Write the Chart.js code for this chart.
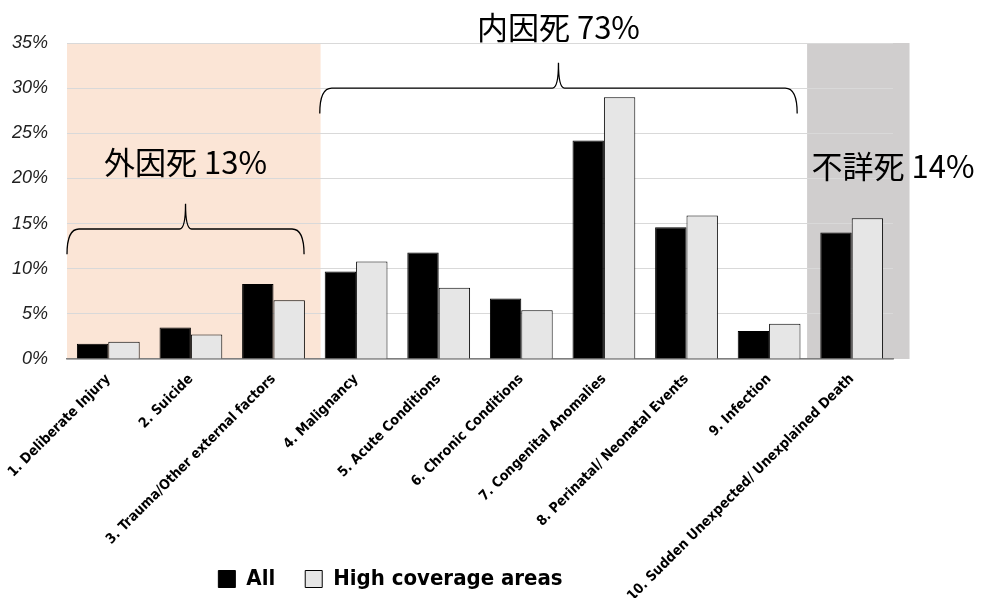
<!DOCTYPE html>
<html>
<head>
<meta charset="utf-8">
<script src="https://cdn.jsdelivr.net/npm/chart.js@4.4.1/dist/chart.umd.min.js"></script>
<style>
  html, body { margin: 0; padding: 0; background: #fff; }
  #wrap { width: 991px; height: 598px; }
</style>
</head>
<body>
<div id="wrap"><canvas id="chart"></canvas></div>
<script>
// ===== Data =====
const categories = [
    '1. Deliberate Injury',
    '2. Suicide',
    '3. Trauma/Other external factors',
    '4. Malignancy',
    '5. Acute Conditions',
    '6. Chronic Conditions',
    '7. Congenital Anomalies',
    '8. Perinatal/ Neonatal Events',
    '9. Infection',
    '10. Sudden Unexpected/ Unexplained Death'
];
const allValues = [1.7, 3.5, 8.3, 9.7, 11.8, 6.7, 24.2, 14.6, 3.1, 14.0];
const highCoverageValues = [1.9, 2.7, 6.5, 10.8, 7.9, 5.4, 29.0, 15.9, 3.9, 15.6];
const yTicks = [0, 5, 10, 15, 20, 25, 30, 35];

// group annotations: first/last category index, label, brace height (%)
const groups = [
    { from: 0, to: 2, label: '外因死 13%', brace: 14.4, textY: 21.8, band: '#fbe5d6' },
    { from: 3, to: 8, label: '内因死 73%', brace: 30, textY: 36.8, band: null },
    { from: 9, to: 9, label: '不詳死 14%', brace: null, textY: 21.4, band: '#d0cece' }
];

const narrow = "'Liberation Sans Narrow', 'Arial Narrow', 'DejaVu Sans Condensed', sans-serif";
const cjk = "'Noto Sans CJK JP', 'Noto Sans CJK SC', sans-serif";

// draws background bands before the grid
const bandPlugin = {
    id: 'bands',
    beforeDraw(chart) {
        const { ctx, chartArea, scales: { x } } = chart;
        const w = x.getPixelForValue(1) - x.getPixelForValue(0);
        ctx.save();
        groups.forEach((g, i) => {
            if (!g.band) return;
            let left = x.getPixelForValue(g.from) - w / 2;
            let right = x.getPixelForValue(g.to) + w / 2;
            if (i === 0) right += w * 0.07;
            if (i === groups.length - 1) { left -= w * 0.04; right += w * 0.2; }
            ctx.fillStyle = g.band;
            ctx.fillRect(left, chartArea.top, right - left, chartArea.bottom - chartArea.top);
        });
        ctx.restore();
    }
};

function drawBrace(ctx, x0, x1, xm, yH, yEnd, yTip) {
    const r = 6;
    ctx.beginPath();
    ctx.moveTo(x0, yEnd);
    ctx.quadraticCurveTo(x0, yH, x0 + r * 2, yH);
    ctx.lineTo(xm - r, yH);
    ctx.quadraticCurveTo(xm, yH, xm, yTip);
    ctx.quadraticCurveTo(xm, yH, xm + r, yH);
    ctx.lineTo(x1 - r * 2, yH);
    ctx.quadraticCurveTo(x1, yH, x1, yEnd);
    ctx.stroke();
}

// braces and group labels
const groupPlugin = {
    id: 'groups',
    afterDatasetsDraw(chart) {
        const { ctx, chartArea, scales: { x, y } } = chart;
        const w = x.getPixelForValue(1) - x.getPixelForValue(0);
        ctx.save();
        ctx.strokeStyle = '#000';
        ctx.lineWidth = 1.3;
        ctx.fillStyle = '#000';
        ctx.font = '31px ' + cjk;
        ctx.textAlign = 'center';
        ctx.textBaseline = 'middle';
        groups.forEach((g, i) => {
            let cx;
            if (g.brace !== null) {
                const x0 = x.getPixelForValue(g.from) - w / 2 + (i === 0 ? 0 : w * 0.06);
                const x1 = x.getPixelForValue(g.to) + w / 2 - (i === 0 ? w * 0.13 : w * 0.16);
                cx = (x0 + x1) / 2;
                drawBrace(ctx, x0, x1, cx, y.getPixelForValue(g.brace),
                    y.getPixelForValue(g.brace - 2.8), y.getPixelForValue(g.brace + 2.8));
            } else {
                cx = chartArea.right;
            }
            ctx.fillText(g.label, cx, y.getPixelForValue(g.textY));
        });
        ctx.restore();
    }
};

// move the legend to where it sits in the source, and let the
// rotated tick labels run to the bottom of the canvas
const layoutFix = {
    id: 'layoutFix',
    afterLayout(chart) {
        const l = chart.legend;
        if (l) {
            l.left -= 56;
            l.right -= 56;
            l.top += 2;
            l.bottom += 2;
        }
        chart.scales.x.bottom = chart.height;
    }
};

new Chart(document.getElementById('chart'), {
    type: 'bar',
    data: {
        labels: categories,
        datasets: [
            {
                label: 'All',
                data: allValues,
                backgroundColor: '#000000',
                borderColor: '#000000',
                borderWidth: 1
            },
            {
                label: 'High coverage areas',
                data: highCoverageValues,
                backgroundColor: '#e6e6e6',
                borderColor: '#000000',
                borderWidth: 1
            }
        ]
    },
    options: {
        responsive: true,
        maintainAspectRatio: false,
        animation: false,
        categoryPercentage: 0.76,
        barPercentage: 1,
        layout: { padding: { top: 43, right: 98, left: 0, bottom: 0 } },
        plugins: {
            legend: {
                position: 'bottom',
                labels: {
                    color: '#000',
                    boxWidth: 17,
                    boxHeight: 17,
                    padding: 30,
                    font: { family: narrow, size: 22, weight: 'bold' }
                }
            },
            tooltip: { enabled: false }
        },
        scales: {
            x: {
                grid: { display: false },
                border: { color: '#7f7f7f', width: 1.5 },
                ticks: {
                    color: '#000',
                    autoSkip: false,
                    minRotation: 45,
                    maxRotation: 45,
                    padding: 4,
                    font: { family: narrow, size: 14, weight: 'bold' }
                },
                afterFit(scale) { scale.height = 177; }
            },
            y: {
                min: 0,
                max: 35,
                border: { display: false },
                grid: { color: '#d9d9d9', lineWidth: 1, drawTicks: false },
                afterBuildTicks(scale) {
                    scale.ticks = yTicks.map(v => ({ value: v }));
                },
                ticks: {
                    color: '#222',
                    padding: 19,
                    font: { family: "'Liberation Sans', Arial, sans-serif", size: 18, style: 'italic' },
                    callback: v => v + '%'
                },
                afterFit(scale) { scale.width = 67; }
            }
        }
    },
    plugins: [bandPlugin, groupPlugin, layoutFix]
});
</script>
</body>
</html>
